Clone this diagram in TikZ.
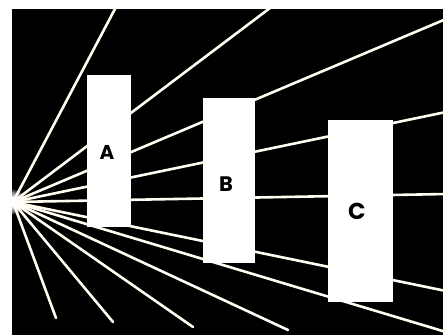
\documentclass[tikz,border=0pt]{standalone}
\usepackage{fontspec}
\setmainfont{Poppins}
\begin{document}
\begin{tikzpicture}[x=1pt,y=-1pt,
  ray/.style={line width=2.6pt,color=white!94!yellow,line cap=round},
  panel/.style={fill=white,draw=none,inner sep=0pt,outer sep=0pt},
  letter/.style={inner sep=0pt,text=black}]
\useasboundingbox (0,0) rectangle (443,335);
\fill[white] (0,0) rectangle (443,335);
\fill[black] (12,9) rectangle (443,335);
% vanishing point and ray ends
\coordinate (V) at (13,202);
\coordinate (e1) at (116,7);
\coordinate (e2) at (270,8);
\coordinate (e3) at (446,19);
\coordinate (e4) at (446,112);
\coordinate (e5) at (446,194);
\coordinate (e6) at (446,291);
\coordinate (e7) at (446,332);
\coordinate (e8) at (288,330);
\coordinate (e9) at (193,327);
\coordinate (e10) at (113,322);
\coordinate (e11) at (56,318);
\begin{scope}
\clip (12,9) rectangle (443,335);
\foreach \e in {e1,e2,e3,e4,e5,e6,e7,e8,e9,e10,e11}
  \draw[ray] (V) -- (\e);
\foreach \r in {12,10,8.5,7}
  \fill[white,opacity=0.3] (V) circle (\r);
\fill[white] (V) circle (5.5);
\end{scope}
% panels
\node[panel,minimum width=44pt,minimum height=152pt] (A) at (109,151) {};
\node[panel,minimum width=52pt,minimum height=165pt] (B) at (229,180.5) {};
\node[panel,minimum width=65pt,minimum height=182pt] (C) at (360.5,211) {};
\node[letter,font=\fontsize{20}{20}\selectfont\bfseries] (la) at (107,152) {A};
\node[letter,font=\fontsize{21}{21}\selectfont\bfseries] (lb) at (226,184) {B};
\node[letter,font=\fontsize{23}{23}\selectfont\bfseries] (lc) at (357,211) {C};
\end{tikzpicture}
\end{document}
